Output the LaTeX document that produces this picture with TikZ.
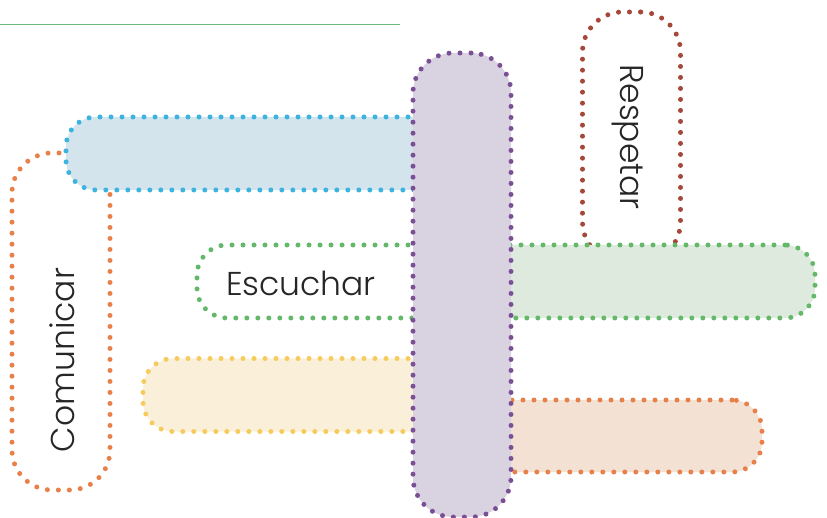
\documentclass[tikz,border=0pt]{standalone}
\usepackage{fontspec}
\setmainfont{Poppins}[UprightFont=* Light]
\usepackage{xcolor}
\usetikzlibrary{positioning}

\definecolor{dotblue}{HTML}{3DB3E0}
\definecolor{fillblue}{HTML}{D3E4EC}
\definecolor{dotpurple}{HTML}{7A4F95}
\definecolor{fillpurple}{HTML}{D9D2E0}
\definecolor{dotgreen}{HTML}{63B86A}
\definecolor{fillgreen}{HTML}{DFEADF}
\definecolor{dotyellow}{HTML}{F6CB5C}
\definecolor{fillyellow}{HTML}{FAF0DA}
\definecolor{dotorange}{HTML}{E8804A}
\definecolor{fillpeach}{HTML}{F3E1D4}
\definecolor{dotred}{HTML}{A5483A}
\definecolor{linegreen}{HTML}{6DB97D}

\begin{document}
\begin{tikzpicture}[x=1pt,y=-1pt,
  bar/.style={rectangle,rounded corners=30pt,inner sep=0pt,line width=5pt,line cap=round,dash pattern=on 0pt off 11pt},
  hbar/.style={bar,minimum height=73pt},
  vbar/.style={bar,rounded corners=40pt,minimum width=98pt},
  word/.style={font=\fontsize{33}{38}\selectfont,text=black!85,inner sep=0pt}
]
\useasboundingbox (0,0) rectangle (827,518);

% Top rule
\draw[linegreen,line width=1pt] (0,25) -- (400,25);

% Vertical bars behind
\node[vbar,draw=dotred,fill=white,minimum height=250pt] (respetarbox) at (631.5,137) {};
\node[vbar,draw=dotorange,fill=white,minimum height=337pt] (comunicarbox) at (61,321.5) {};

% Horizontal bars
\node[hbar,draw=dotblue,fill=fillblue,minimum width=394pt] (bluebar) at (263,153.5) {};
\node[hbar,draw=dotgreen,fill=white,minimum width=263pt] (escucharbox) at (328.5,281.5) {};
\node[hbar,draw=dotgreen,fill=fillgreen,minimum width=350pt] (greenbar) at (640,281.5) {};
\node[hbar,draw=dotyellow,fill=fillyellow,minimum width=317pt] (yellowbar) at (301.5,395) {};
\node[hbar,draw=dotorange,fill=fillpeach,minimum width=297pt,minimum height=72pt] (peachbar) at (613.5,436) {};

% Middle bar on top
\node[vbar,draw=dotpurple,fill=fillpurple,minimum height=464pt] (purplebar) at (462,285) {};

% Words
\node[word,rotate=-90] (respetar) at (628,137) {Respetar};
\node[word,rotate=90] (comunicar) at (62,360) {Comunicar};
\node[word] (escuchar) at (301,283) {Escuchar};

\end{tikzpicture}
\end{document}
